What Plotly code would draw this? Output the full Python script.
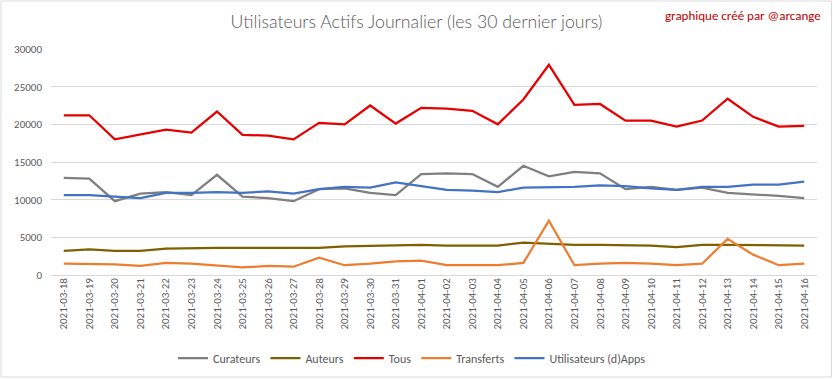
import plotly.graph_objects as go

dates = ["2021-03-18", "2021-03-19", "2021-03-20", "2021-03-21", "2021-03-22", "2021-03-23",
         "2021-03-24", "2021-03-25", "2021-03-26", "2021-03-27", "2021-03-28", "2021-03-29",
         "2021-03-30", "2021-03-31", "2021-04-01", "2021-04-02", "2021-04-03", "2021-04-04",
         "2021-04-05", "2021-04-06", "2021-04-07", "2021-04-08", "2021-04-09", "2021-04-10",
         "2021-04-11", "2021-04-12", "2021-04-13", "2021-04-14", "2021-04-15", "2021-04-16"]

curateurs = [12900, 12800, 9800, 10800, 11000, 10600, 13300, 10400, 10200, 9800,
             11400, 11500, 10900, 10600, 13400, 13500, 13400, 11700, 14500, 13100,
             13700, 13500, 11400, 11700, 11300, 11600, 10900, 10700, 10500, 10200]

auteurs = [3200, 3400, 3200, 3200, 3500, 3600, 3600, 3600, 3600, 3500,
           3600, 3800, 3900, 3900, 4000, 3900, 3900, 3900, 4300, 4100,
           4000, 4000, 4000, 3900, 3700, 4000, 4000, 4000, 4000, 3900]

tous = [21200, 21200, 18000, 18600, 19300, 18900, 21700, 18600, 18500, 18000,
        20200, 20000, 22500, 20100, 22200, 22100, 21800, 20000, 23300, 27900,
        22600, 22700, 20500, 20500, 19700, 20500, 23400, 21000, 19700, 19800]

transferts = [1500, 1400, 1400, 1200, 1600, 1500, 1300, 1000, 1200, 1100,
              2300, 1300, 1500, 1800, 1900, 1300, 1300, 1300, 1600, 7200,
              1300, 1500, 1600, 1500, 1300, 1500, 4800, 2700, 1300, 1500]

dapps = [10600, 10600, 10400, 10200, 10900, 10900, 11000, 10900, 11100, 10800,
         11400, 11700, 11600, 12300, 11800, 11300, 11200, 11000, 11600, 11700,
         11700, 11900, 11800, 11500, 11300, 11700, 11700, 12000, 12000, 12400]

y_ticks = [0, 5000, 10000, 15000, 20000, 25000, 30000]
y_tick_labels = ["0", "5000", "10000", "15000", "20000", "25000", "30000"]

series = [
    ("Curateurs", curateurs, "#7F7F7F"),
    ("Auteurs", auteurs, "#7F6000"),
    ("Tous", tous, "#E60000"),
    ("Transferts", transferts, "#ED7D31"),
    ("Utilisateurs (d)Apps", dapps, "#4472C4"),
]

FONT = "Carlito, Lato, sans-serif"

fig = go.Figure()
for name, vals, color in series:
    fig.add_trace(go.Scatter(x=dates, y=vals, name=name, mode="lines",
                             line=dict(color=color, width=2.25)))

W, H = 833, 379
L, R, T, B = 51, 16, 49, 104
pw, ph = W - L - R, H - T - B

def px_x(x):
    return (x - L) / pw

def px_y(y):
    return (H - B - y) / ph

fig.update_layout(
    width=W, height=H,
    margin=dict(l=L, r=R, t=T, b=B, autoexpand=False),
    paper_bgcolor="white", plot_bgcolor="white",
    font=dict(family=FONT, color="#595959", size=11),
    title=dict(text="Utilisateurs Actifs Journalier (les 30 dernier jours)",
               x=416.5 / W, xanchor="center", xref="container",
               y=1 - 22 / H, yanchor="middle", yref="container",
               font=dict(family="Lato Light, Lato, sans-serif", size=17.7,
                         color="#595959", weight=300)),
    showlegend=True,
    legend=dict(orientation="h", x=412 / W, xanchor="center", xref="container",
                y=1 - 358 / H, yanchor="middle", yref="container",
                font=dict(family=FONT, size=12, color="#595959"),
                bgcolor="rgba(0,0,0,0)"),
    xaxis=dict(type="category", range=[-0.5, 29.5], tickangle=-90,
               showgrid=False, showline=False, ticks="", automargin=False,
               tickfont=dict(family=FONT, size=11, color="#595959")),
    yaxis=dict(range=[0, 30000], tickvals=y_ticks, ticktext=y_tick_labels,
               showgrid=True,
               gridcolor="#D9D9D9", gridwidth=1, zeroline=True,
               zerolinecolor="#D9D9D9", zerolinewidth=1, showline=False,
               ticks="", automargin=False, ticklabelstandoff=8,
               tickfont=dict(family=FONT, size=11, color="#595959")),
    annotations=[dict(text="graphique créé par @arcange", xref="paper", yref="paper",
                      x=px_x(823), xanchor="right", y=px_y(15), yanchor="middle",
                      showarrow=False,
                      font=dict(family=FONT, size=13, color="#C00000"))],
    shapes=[dict(type="rect", xref="paper", yref="paper",
                 x0=px_x(1), x1=px_x(831.5), y0=px_y(377), y1=px_y(1),
                 line=dict(color="#D9D9D9", width=1), layer="below")],
)

fig.write_html("out.html",
               config={"displayModeBar": False, "staticPlot": True},
               post_script="document.body.style.margin='0';document.body.style.overflow='hidden';")
